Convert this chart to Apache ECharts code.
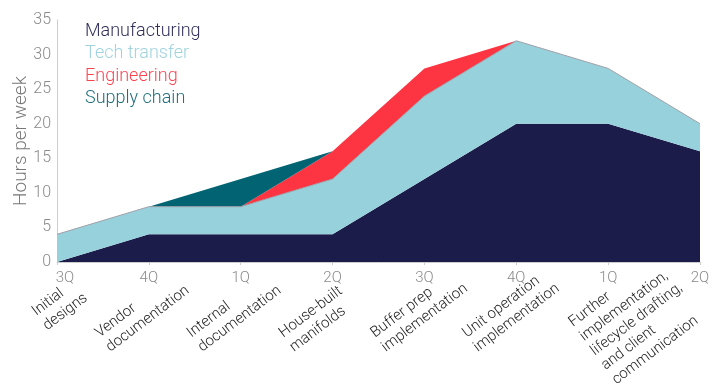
<!DOCTYPE html>
<html><head><meta charset="utf-8">
<script src="https://cdn.jsdelivr.net/npm/echarts@6/dist/echarts.min.js"></script>
<style>html,body{margin:0;padding:0;background:#fff}#c{width:721px;height:388px}</style>
</head><body><div id="c"></div>
<script>
const quarters = ['3Q','4Q','1Q','2Q','3Q','4Q','1Q','2Q'];
const stages = ['Initial\ndesigns','Vendor\ndocumentation','Internal\ndocumentation','House-built\nmanifolds','Buffer prep\nimplementation','Unit operation\nimplementation','Further\nimplementation,\nlifecycle drafting,\nand client\ncommunication',''];
const manufacturing = [0, 4, 4, 4, 12, 20, 20, 16];
const techTransfer  = [4, 4, 4, 8, 12, 12, 8, 4];
const engineering   = [0, 0, 0, 4, 4, 0, 0, 0];
const supplyChain   = [0, 0, 4, 0, 0, 0, 0, 0];
const yTicks = [0, 5, 10, 15, 20, 25, 30, 35];

const FONT = 'Roboto, "Liberation Sans", sans-serif';
const colors = {
  'Manufacturing': {fill:'#1c1c4b', text:'#2e2e5a'},
  'Tech transfer': {fill:'#96d1dc', text:'#9fd3de'},
  'Engineering':   {fill:'#fd3442', text:'#fb4350'},
  'Supply chain':  {fill:'#026473', text:'#1e6e7c'}
};
function mk(name, data, line) {
  return {
    name, type:'line', stack:'total', data, symbol:'none', showSymbol:false,
    itemStyle:{color:colors[name].fill},
    lineStyle: line ? {width:1, color:'#a0a0a8'} : {width:0},
    areaStyle:{color:colors[name].fill, opacity:1},
    emphasis:{disabled:true}, silent:true
  };
}
const stageStyle = {color:'#222222', fontSize:15, fontFamily:FONT, fontWeight:300, lineHeight:18};
const stageRich = (v, i) => {
  const key = i === 0 ? 'first' : (i === stages.length - 2 ? 'long' : 'n');
  return v.split('\n').map(s => '{' + key + '|' + s + '}').join('\n');
};
const chart = echarts.init(document.getElementById('c'), null, {renderer:'canvas'});
chart.setOption({
  animation:false,
  textStyle:{fontFamily:FONT},
  grid:{left:57, right:21, top:20, bottom:126, containLabel:false, outerBoundsMode:'none'},
  legend:{
    orient:'vertical', left:75, top:17, icon:'rect', itemWidth:0, itemHeight:18, itemGap:4.5,
    selectedMode:false,
    itemStyle:{opacity:0}, lineStyle:{opacity:0},
    textStyle:{fontSize:18, fontFamily:FONT, fontWeight:300},
    data:Object.keys(colors).map(n => ({name:n, textStyle:{color:colors[n].text}}))
  },
  xAxis:[{
    type:'category', data:quarters, boundaryGap:false, position:'bottom',
    axisLine:{lineStyle:{color:'#cccccc', width:1}},
    axisTick:{show:true, length:3, lineStyle:{color:'#cccccc'}},
    axisLabel:{
      interval:0, margin:9, color:'#8a8a8a', fontSize:15, fontFamily:FONT, fontWeight:300,
      formatter:(v, i) => i === 0 ? '{f|' + v + '}' : v,
      rich:{f:{padding:[0,0,0,16], fontSize:15, color:'#8a8a8a', fontFamily:FONT, fontWeight:300}}
    }
  },{
    type:'category', data:stages, boundaryGap:false, position:'bottom', offset:7,
    axisLine:{show:false}, axisTick:{show:false},
    axisLabel:Object.assign({
      interval:0, rotate:37, align:'left', verticalAlign:'top', margin:8,
      padding:[6,0,0,-76],
      formatter:stageRich,
      rich:{
        first:Object.assign({padding:[0,0,0,36]}, stageStyle),
        long:Object.assign({padding:[0,0,0,18]}, stageStyle),
        n:Object.assign({}, stageStyle)
      }
    }, stageStyle)
  }],
  yAxis:{
    type:'value', min:yTicks[0], max:yTicks[yTicks.length-1], interval:5,
    name:'Hours per week', nameLocation:'middle', nameGap:26, nameMoveOverlap:false,
    nameTextStyle:{fontSize:19, color:'#777777', fontFamily:FONT, fontWeight:300},
    axisLine:{show:true, lineStyle:{color:'#cccccc'}},
    axisTick:{show:false}, splitLine:{show:false},
    axisLabel:{margin:6, color:'#8a8a8a', fontSize:16, fontFamily:FONT, fontWeight:300}
  },
  series:[
    mk('Manufacturing', manufacturing, false),
    mk('Tech transfer', techTransfer, true),
    mk('Engineering', engineering, false),
    mk('Supply chain', supplyChain, false)
  ]
});
</script></body></html>
